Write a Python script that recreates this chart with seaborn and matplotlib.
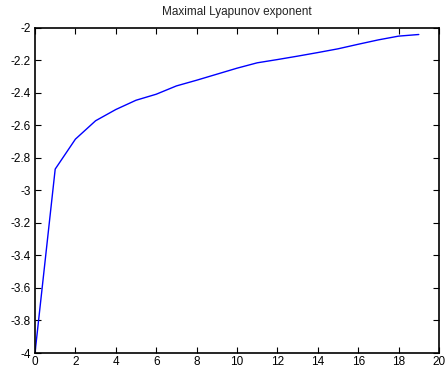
import matplotlib
matplotlib.use("Agg")
import matplotlib.pyplot as plt
import seaborn as sns
import pandas as pd

# Data
iterations = list(range(20))
lyap = [-4.0, -2.87, -2.686, -2.573, -2.504, -2.447, -2.41, -2.359, -2.324,
        -2.287, -2.25, -2.217, -2.197, -2.176, -2.154, -2.131, -2.103,
        -2.076, -2.053, -2.043]
xticks = list(range(0, 21, 2))
yticks = [-4, -3.8, -3.6, -3.4, -3.2, -3, -2.8, -2.6, -2.4, -2.2, -2]
ytick_labels = ["-4", "-3.8", "-3.6", "-3.4", "-3.2", "-3", "-2.8", "-2.6",
                "-2.4", "-2.2", "-2"]
title = "Maximal Lyapunov exponent"

sns.set_theme(style="white")
plt.rcParams['font.family'] = ['Liberation Sans', 'DejaVu Sans']

df = pd.DataFrame({"x": iterations, "y": lyap})

fig = plt.figure(figsize=(4.48, 3.70), dpi=100)
ax = fig.add_axes([35 / 448, 17 / 370, 404 / 448, 325.5 / 370])
sns.lineplot(data=df, x="x", y="y", ax=ax, color="#0000ff", linewidth=1.0)

ax.set_xlim(0, 20)
ax.set_ylim(-4, -2)
ax.set_xticks(xticks)
ax.set_xticklabels([str(t) for t in xticks])
ax.set_yticks(yticks)
ax.set_yticklabels(ytick_labels)
ax.set_xlabel("")
ax.set_ylabel("")
ax.set_title(title, fontsize=8.5, pad=9, color="#222222")

for s in ax.spines.values():
    s.set_visible(True)
    s.set_color("black")
    s.set_linewidth(1.2)

ax.tick_params(axis="both", which="both", direction="in", length=4, width=0.8,
               top=True, right=True, bottom=True, left=True,
               labelsize=8.5, colors="black", pad=3)
ax.tick_params(axis="x", pad=2)

fig.savefig("out.png", dpi=100)
